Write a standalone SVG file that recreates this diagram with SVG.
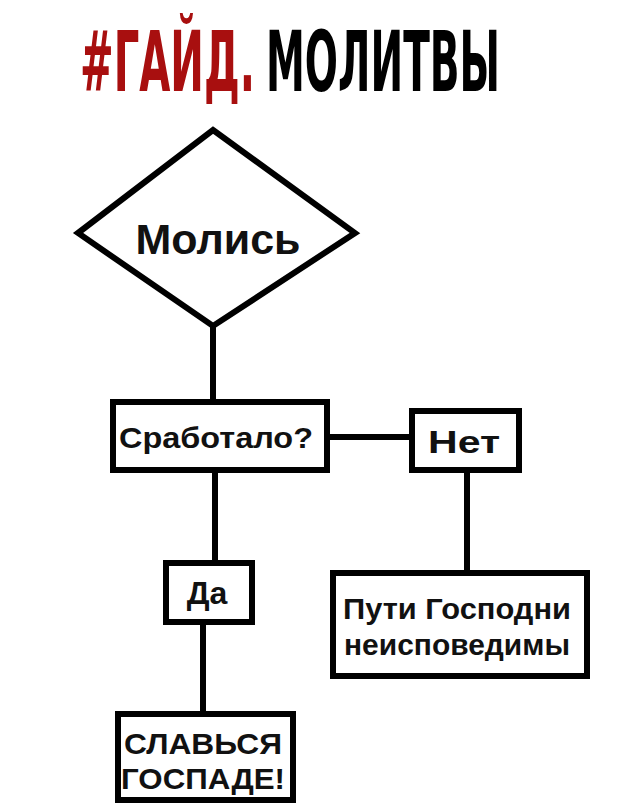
<svg xmlns="http://www.w3.org/2000/svg" width="640" height="810" viewBox="0 0 640 810">
<style>
.b{fill:#fff;stroke:#000;stroke-width:6}
.l{stroke:#000;stroke-width:6;fill:none}
.t{font-family:"Liberation Sans",Arial,sans-serif;font-weight:bold;font-size:30px;fill:#111;text-anchor:middle}
.h{font-family:"DejaVu Sans Condensed","Liberation Sans",sans-serif;font-weight:bold;font-size:84px}
</style>
<rect width="640" height="810" fill="#fff"/>
<text class="h" x="80" y="91" fill="#a80f0f" textLength="175" lengthAdjust="spacingAndGlyphs">#ГАЙД.</text>
<text class="h" x="266" y="91" fill="#000" textLength="234" lengthAdjust="spacingAndGlyphs">МОЛИТВЫ</text>
<g id="connectors">
<line class="l" x1="213" y1="325" x2="213" y2="402"/>
<line class="l" x1="327" y1="437" x2="412" y2="437"/>
<line class="l" x1="215" y1="470" x2="215" y2="563"/>
<line class="l" x1="467" y1="470" x2="467" y2="573"/>
<line class="l" x1="203" y1="622" x2="203" y2="714"/>
</g>
<g id="molis"><polygon class="b" points="213,130 355,233 213,326 78,233"/><text class="t" x="218" y="254" style="font-size:42px" textLength="165" lengthAdjust="spacingAndGlyphs">Молись</text></g>
<g id="srabotalo"><rect class="b" x="113" y="402" width="214" height="68"/><text class="t" x="216" y="448" textLength="194" lengthAdjust="spacingAndGlyphs">Сработало?</text></g>
<g id="net"><rect class="b" x="412" y="411" width="107" height="59"/><text class="t" x="464" y="453" style="font-size:32px" textLength="72" lengthAdjust="spacingAndGlyphs">Нет</text></g>
<g id="da"><rect class="b" x="166" y="563" width="86" height="59"/><text class="t" x="207" y="604" style="font-size:32px">Да</text></g>
<g id="puti"><rect class="b" x="333" y="573" width="254" height="103"/><text class="t" x="457" y="619" textLength="228" lengthAdjust="spacingAndGlyphs">Пути Господни</text><text class="t" x="457" y="655" textLength="226" lengthAdjust="spacingAndGlyphs">неисповедимы</text></g>
<g id="slav"><rect class="b" x="118" y="714" width="175" height="86"/><text class="t" x="203" y="754" textLength="158" lengthAdjust="spacingAndGlyphs">СЛАВЬСЯ</text><text class="t" x="203" y="789" textLength="164" lengthAdjust="spacingAndGlyphs">ГОСПАДЕ!</text></g>
</svg>
